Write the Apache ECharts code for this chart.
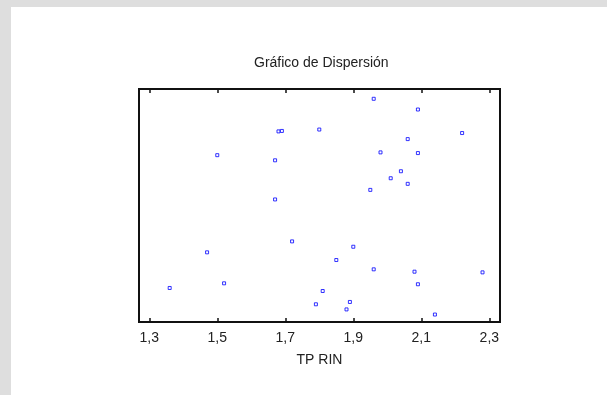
<!DOCTYPE html>
<html>
<head>
<meta charset="utf-8">
<script src="https://cdn.jsdelivr.net/npm/echarts@6/dist/echarts.min.js"></script>
<style>
  html, body { margin: 0; padding: 0; background: #dedede; }
  #chart { position: absolute; left: 11px; top: 7px; width: 596px; height: 388px; background: #ffffff; }
</style>
</head>
<body>
<div id="chart"></div>
<script>
// TP RIN (x) against the paired variable (y) for each sample
const tpRin = [
  1.96, 2.09, 1.68, 1.69, 1.80, 2.22, 2.06, 1.50, 1.67, 1.98,
  2.09, 2.04, 2.01, 2.06, 1.95, 1.67, 1.72, 1.90, 1.47, 1.85,
  1.96, 2.08, 2.28, 1.36, 1.52, 2.09, 1.81, 1.79, 1.89, 1.88,
  2.14
];
const yValues = [
  95.8, 91.2, 81.8, 82.0, 82.6, 81.1, 78.5, 71.6, 69.4, 72.8,
  72.5, 64.7, 61.7, 59.3, 56.7, 52.6, 34.6, 32.3, 29.9, 26.6,
  22.6, 21.6, 21.3, 14.6, 16.6, 16.2, 13.3, 7.6, 8.6, 5.4,
  3.2
];
const xTicks = [1.3, 1.5, 1.7, 1.9, 2.1, 2.3];

const points = tpRin.map((x, i) => [x, yValues[i]]);
const fmt = v => String(Number(v).toFixed(1)).replace('.', ',');
const font = 'Liberation Sans, Arial';

const chart = echarts.init(document.getElementById('chart'));
chart.setOption({
  animation: false,
  title: {
    text: 'Gráfico de Dispersión',
    left: 238,
    top: 44,
    textStyle: { fontFamily: font, fontSize: 14, fontWeight: 'normal', color: '#222' }
  },
  grid: {
    left: 128, top: 82, width: 361, height: 233,
    show: true, borderColor: '#111', borderWidth: 2, backgroundColor: 'transparent'
  },
  xAxis: [{
    type: 'value',
    position: 'bottom',
    min: 1.2698, max: 2.3314,
    name: 'TP RIN',
    nameLocation: 'middle',
    nameGap: 31,
    nameTextStyle: { fontFamily: font, fontSize: 14, color: '#222' },
    axisLine: { show: true, lineStyle: { color: '#111', width: 2 } },
    axisTick: { show: true, inside: true, length: 4, customValues: xTicks, lineStyle: { color: '#111', width: 1.5 } },
    axisLabel: { customValues: xTicks, formatter: fmt, margin: 9, fontFamily: font, fontSize: 14, color: '#222' },
    splitLine: { show: false }
  }, {
    type: 'value',
    position: 'top',
    min: 1.2698, max: 2.3314,
    axisLine: { show: true, lineStyle: { color: '#111', width: 2 } },
    axisTick: { show: true, inside: true, length: 4, customValues: xTicks, lineStyle: { color: '#111', width: 1.5 } },
    axisLabel: { show: false },
    splitLine: { show: false }
  }],
  yAxis: {
    type: 'value',
    min: 0, max: 100,
    axisLine: { show: true, lineStyle: { color: '#111', width: 2 } },
    axisTick: { show: false },
    axisLabel: { show: false },
    splitLine: { show: false }
  },
  series: [{
    type: 'scatter',
    xAxisIndex: 0,
    data: points,
    symbol: 'rect',
    symbolSize: 3,
    itemStyle: { color: '#ffffff', borderColor: '#0000ff', borderWidth: 1 }
  }]
});
</script>
</body>
</html>
